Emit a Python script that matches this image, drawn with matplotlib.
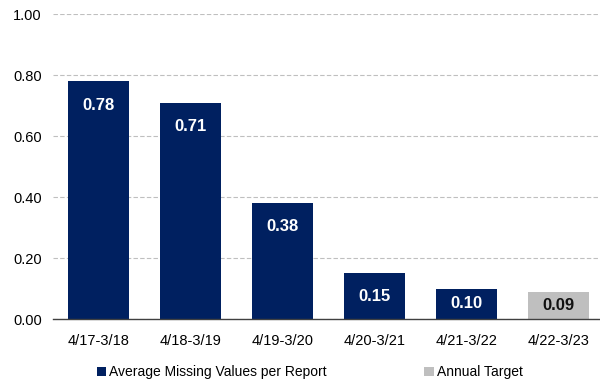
import matplotlib
matplotlib.use("Agg")
import matplotlib.pyplot as plt
from matplotlib.patches import Patch

periods = ["4/17-3/18", "4/18-3/19", "4/19-3/20", "4/20-3/21", "4/21-3/22", "4/22-3/23"]
values = [0.78, 0.71, 0.38, 0.15, 0.10, 0.09]
is_target = [False, False, False, False, False, True]
yticks = [0.0, 0.2, 0.4, 0.6, 0.8, 1.0]

navy = "#002060"
grey = "#BFBFBF"

plt.rcParams["font.family"] = ["Liberation Sans", "DejaVu Sans"]

fig = plt.figure(figsize=(6.0, 3.83), dpi=100)
ax = fig.add_axes([0.088, 0.167, 0.912, 0.796])

colors = [grey if t else navy for t in is_target]
x = list(range(len(periods)))
bars = ax.bar(x, values, width=0.66, color=colors, zorder=3)

# labels sit near the top of tall bars, centred inside short ones
for xi, v, t in zip(x, values, is_target):
    ypos = max(v / 2, v - 0.078)
    ax.text(xi, ypos, f"{v:.2f}", ha="center", va="center",
            color="#111111" if t else "white", fontsize=12, fontweight="bold", zorder=4)

ax.set_xlim(-0.5, 5.45)
ax.set_ylim(0, 1.0)
ax.set_yticks(yticks)
ax.set_yticklabels([f"{t:.2f}" for t in yticks], fontsize=10.5)
ax.set_xticks(x)
ax.set_xticklabels(periods, fontsize=10.5)
ax.tick_params(axis="both", length=0, colors="#000000")
ax.tick_params(axis="x", pad=11)
ax.tick_params(axis="y", pad=8)

ax.yaxis.grid(True, linestyle=(0, (4, 2)), color="#BFBFBF", linewidth=0.8, zorder=0)
for side in ["left", "right", "top"]:
    ax.spines[side].set_visible(False)
ax.spines["bottom"].set_color("#404040")
ax.spines["bottom"].set_linewidth(1.0)
ax.spines["bottom"].set_zorder(5)

handles = [Patch(facecolor=navy, label="Average Missing Values per Report"),
           Patch(facecolor=grey, label="Annual Target")]
fig.legend(handles=handles, loc="center", bbox_to_anchor=(0.516, 0.028), ncol=2,
           frameon=False, fontsize=10, handlelength=0.7, handleheight=0.7,
           handletextpad=0.2, columnspacing=7.0)

fig.savefig("out.png", dpi=100)
